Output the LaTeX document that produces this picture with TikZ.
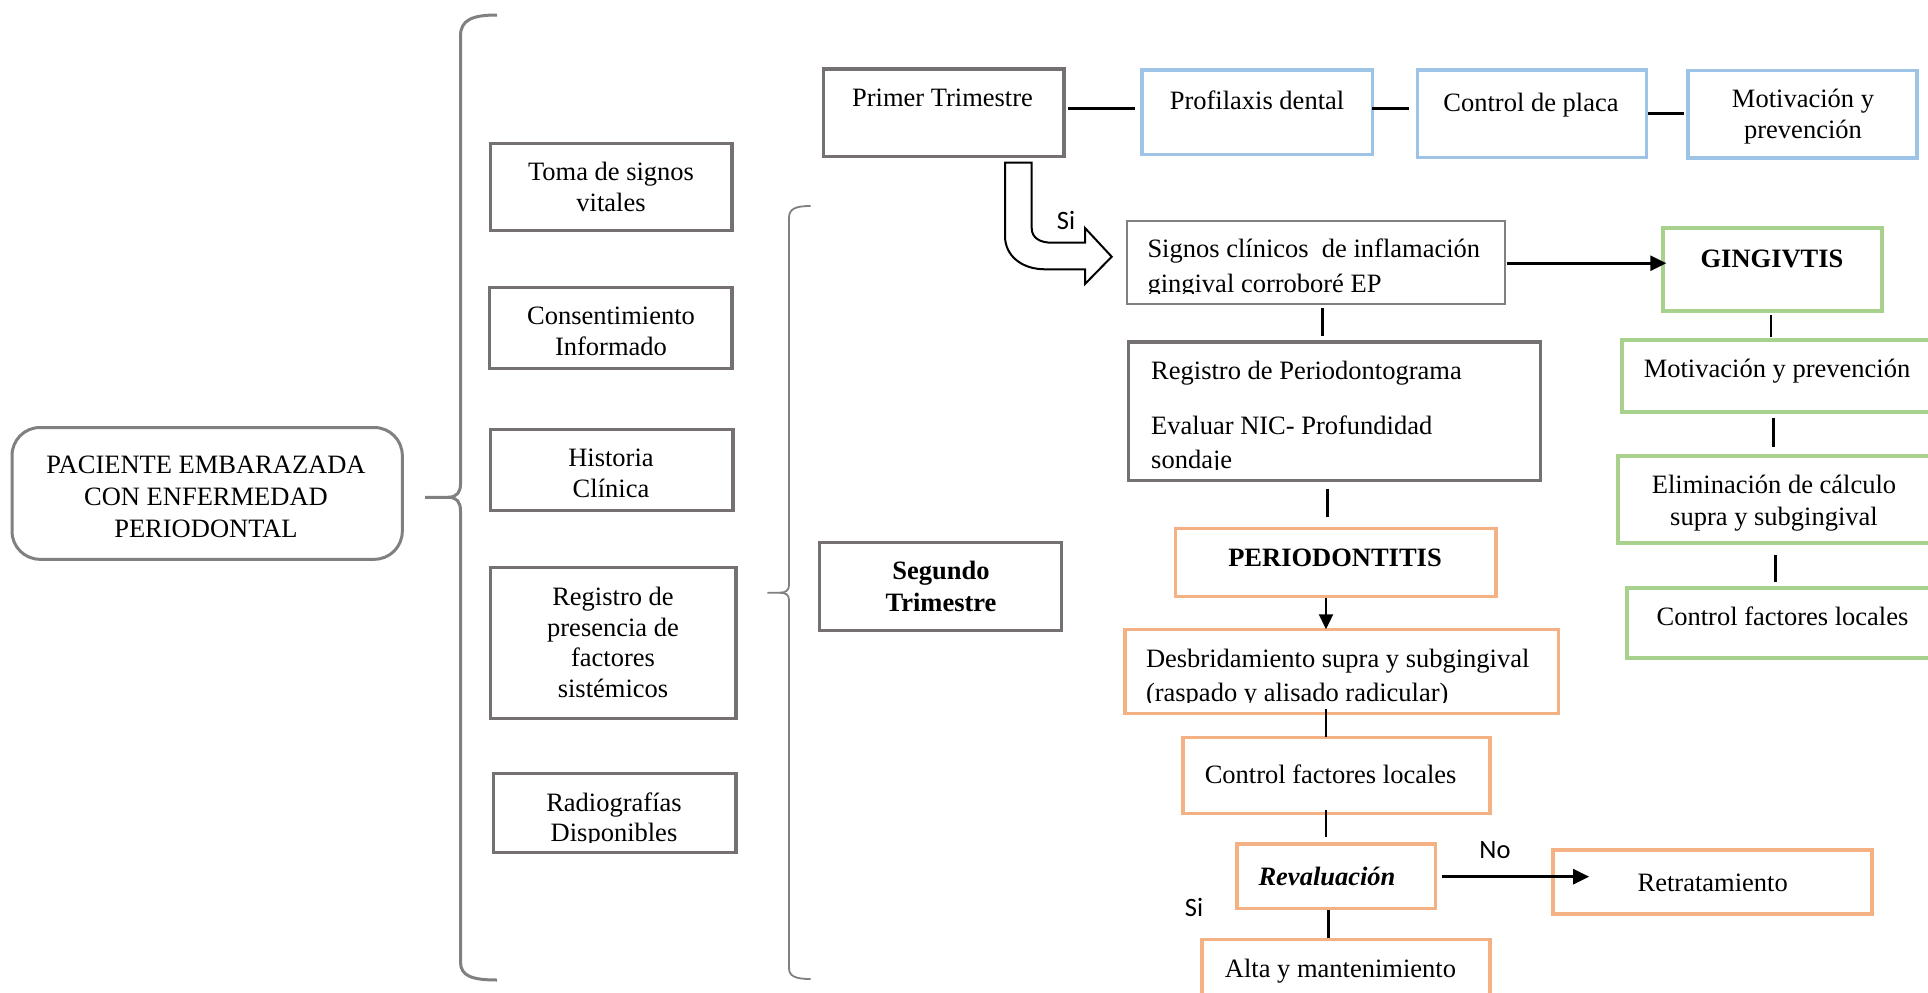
\documentclass[tikz,border=0pt]{standalone}
\usepackage{fontspec}
\setmainfont{Liberation Serif}
\newfontfamily\calib{Carlito}
\usetikzlibrary{fit,arrows.meta}
\definecolor{boxgray}{RGB}{118,113,113}
\definecolor{brgray}{RGB}{128,128,128}
\definecolor{bblue}{RGB}{157,195,230}
\definecolor{bgreen}{RGB}{169,209,142}
\definecolor{borange}{RGB}{244,177,131}
\newcommand\mybox[6]{\node[#2, fit={(#3,#4) (#5,#6)}] (#1) {};}
\newcommand\mytext[5]{\node[txt,#4] (#1) at (#2,#3) {#5};}
\begin{document}
\begin{tikzpicture}[x=1pt,y=-1pt,
  plainzero/.style={inner sep=0pt, outer sep=0pt},
  graybox/.style={plainzero, draw=boxgray, line width=3.5pt},
  thinbox/.style={plainzero, draw=brgray, line width=2pt},
  bluebox/.style={plainzero, draw=bblue, line width=3.5pt},
  greenbox/.style={plainzero, draw=bgreen, line width=4pt},
  orangebox/.style={plainzero, draw=borange, line width=3.5pt},
  pacbox/.style={plainzero, draw=brgray, line width=3pt, rounded corners=28pt},
  txt/.style={inner sep=0pt, anchor=base, font=\fontsize{26.5}{32}\selectfont},
  lbl/.style={font=\calib\fontsize{26.5}{32}\selectfont},
  conn/.style={line width=2.5pt},
  hconn/.style={line width=3pt},
  arr/.style={line width=2.7pt, -{Triangle[length=16pt,width=15pt]}},
  arrthin/.style={line width=2pt, -{Triangle[length=15pt,width=14pt]}},
  brace/.style={draw=brgray, line width=3pt},
  thinbrace/.style={draw=brgray, line width=1.8pt},
]
\useasboundingbox (0,0) rectangle (1928,993);
\clip (0,0) rectangle (1928,993);

% braces
\draw[brace] (497,15) .. controls (472,15) and (460.5,20) .. (460.5,36) -- (460.5,484)
  .. controls (460.5,492) and (457,497.3) .. (448,497.3) -- (425,497.3);
\draw[brace] (448,497.3) .. controls (457,497.3) and (460.5,502) .. (460.5,511) -- (460.5,962)
  .. controls (460.5,976) and (472,980) .. (497,980);
\draw[thinbrace] (810.6,206) .. controls (795,206) and (789,209) .. (789,218) -- (789,585)
  .. controls (789,590) and (786,592.7) .. (780,592.7) -- (767.3,592.7);
\draw[thinbrace] (780,592.7) .. controls (786,592.7) and (789,595) .. (789,600) -- (789,968)
  .. controls (789,976) and (795,979) .. (810.6,979);

% boxes
\mybox{paciente}{pacbox}{12}{427.5}{402.3}{559.3}
\mybox{toma}{graybox}{490.6}{143.6}{732}{230.4}
\mybox{consent}{graybox}{489.6}{287.5}{732}{368.6}
\mybox{historia}{graybox}{490.6}{429.3}{733}{510.7}
\mybox{regpres}{graybox}{490.6}{567.3}{735.8}{718.3}
\mybox{radio}{graybox}{493.5}{773.3}{735.8}{852.7}
\mybox{segundo}{graybox}{819.6}{542.3}{1061.7}{630.7}
\mybox{primer}{graybox}{823.3}{68.9}{1063.9}{156.4}
\mybox{profil}{bluebox}{1142}{70}{1372.3}{154.3}
\mybox{control}{bluebox}{1417.7}{70}{1646.4}{157.5}
\mybox{motiv}{bluebox}{1688}{70.7}{1916.8}{158.2}
\mybox{signos}{thinbox}{1126.5}{220.7}{1504.9}{303.6}
\mybox{gingiv}{greenbox}{1663.3}{228.3}{1881.7}{310.7}
\mybox{motivg}{greenbox}{1621.7}{340}{1940}{411.7}
\mybox{elim}{greenbox}{1618.3}{456}{1940}{543.3}
\mybox{ctrlg}{greenbox}{1626.7}{588.3}{1940}{658.3}
\mybox{regper}{graybox}{1128.7}{341.8}{1540.6}{480.4}
\mybox{period}{orangebox}{1175.6}{528.3}{1496}{596.7}
\mybox{desbr}{orangebox}{1125}{629.3}{1558.5}{713.3}
\mybox{ctrlo}{orangebox}{1183}{737.3}{1490}{813.3}
\mybox{reval}{orangebox}{1236.8}{844}{1435.5}{908.3}
\mybox{retrat}{orangebox}{1553}{850}{1872}{914}
\mybox{alta}{orangebox}{1202}{939.3}{1490}{1005}

% texts
\mytext{tpac1}{206}{473}{}{PACIENTE EMBARAZADA}
\mytext{tpac2}{206}{505}{}{CON ENFERMEDAD}
\mytext{tpac3}{206}{537}{}{PERIODONTAL}
\mytext{ttoma1}{611}{180}{}{Toma de signos}
\mytext{ttoma2}{611}{211}{}{vitales}
\mytext{tcons1}{611}{324}{}{Consentimiento}
\mytext{tcons2}{611}{355}{}{Informado}
\mytext{thist1}{611}{466}{}{Historia}
\mytext{thist2}{611}{497}{}{Clínica}
\mytext{treg1}{613}{605}{}{Registro de}
\mytext{treg2}{613}{636}{}{presencia de}
\mytext{treg3}{613}{666}{}{factores}
\mytext{treg4}{613}{697}{}{sistémicos}
\begin{scope}
\clip (493.5,773.3) rectangle (735.8,842.5);
\mytext{trad1}{614}{811}{}{Radiografías}
\mytext{trad2}{614}{841}{}{Disponibles}
\end{scope}
\mytext{tseg1}{941}{579}{font=\bfseries\fontsize{26.5}{32}\selectfont}{Segundo}
\mytext{tseg2}{941}{611}{font=\bfseries\fontsize{26.5}{32}\selectfont}{Trimestre}
\mytext{tprim}{942.5}{106.8}{}{Primer Trimestre}
\mytext{tprof}{1257}{109.6}{}{Profilaxis dental}
\mytext{tctrl}{1531}{111}{}{Control de placa}
\mytext{tmot1}{1803}{107.5}{}{Motivación y}
\mytext{tmot2}{1803}{138.7}{}{prevención}
\begin{scope}
\clip (1126.5,220.7) rectangle (1504.9,293.5);
\mytext{tsig1}{1147.3}{257.5}{anchor=base west}{Signos clínicos~ de inflamación}
\mytext{tsig2}{1147.3}{292}{anchor=base west}{gingival corroboré EP}
\end{scope}
\mytext{tging}{1772}{267}{font=\bfseries\fontsize{26.5}{32}\selectfont}{GINGIVTIS}
\mytext{tmotg}{1777}{377}{}{Motivación y prevención}
\mytext{telim1}{1774}{493}{}{Eliminación de cálculo}
\mytext{telim2}{1774}{525.5}{}{supra y subgingival}
\mytext{tctrlg}{1782.5}{625}{}{Control factores locales}
\begin{scope}
\clip (1128.7,341.8) rectangle (1540.6,469);
\mytext{tper1}{1151}{379}{anchor=base west}{Registro de Periodontograma}
\mytext{tper2}{1151}{434.7}{anchor=base west}{Evaluar NIC- Profundidad}
\mytext{tper3}{1151}{468}{anchor=base west}{sondaje}
\end{scope}
\mytext{tperio}{1335}{566}{font=\bfseries\fontsize{26.5}{32}\selectfont}{PERIODONTITIS}
\begin{scope}
\clip (1125,629.3) rectangle (1558.5,702);
\mytext{tdes1}{1145.8}{667.5}{anchor=base west}{Desbridamiento supra y subgingival}
\mytext{tdes2}{1145.8}{701}{anchor=base west}{(raspado y alisado radicular)}
\end{scope}
\mytext{tctrlo}{1330.6}{783.5}{}{Control factores locales}
\mytext{treval}{1327}{885}{font=\bfseries\itshape\fontsize{26.5}{32}\selectfont}{Revaluación}
\mytext{tretr}{1712.7}{891}{}{Retratamiento}
\mytext{talta}{1340.5}{977.5}{}{Alta y mantenimiento}
\mytext{tno}{1495}{858}{lbl}{No}
\mytext{tsi2}{1194}{916}{lbl}{Si}
\mytext{tsi1}{1066}{229}{lbl}{Si}

% hollow bent arrow from Primer Trimestre to Signos
\draw[line width=2pt, fill=white, line join=miter]
  (1005,162.7) -- (1005,236) .. controls (1005,256) and (1022,269.3) .. (1045,269.3)
  -- (1085,269.3) -- (1085,284) -- (1111.7,256.7) -- (1085,228) -- (1085,242.7)
  -- (1051.7,242.7) .. controls (1040,242.7) and (1031.7,238) .. (1031.7,228)
  -- (1031.7,162.7) -- cycle;

% connectors
\draw[hconn, shorten <=4pt, shorten >=7pt] (primer.east |- 0,108.9) -- (profil.west |- 0,108.9);
\draw[hconn, shorten >=9pt] (profil.east |- 0,108.6) -- (control.west |- 0,108.6);
\draw[hconn, shorten <=2pt, shorten >=4pt] (control.east |- 0,113.6) -- (motiv.west |- 0,113.6);
\draw[arr, shorten <=2pt, shorten >=-3pt] (signos.east |- 0,263.2) -- (gingiv.west |- 0,263.2);
\draw[conn, shorten <=4.6pt, shorten >=5.4pt] (signos.south -| 1322.4,0) -- (regper.north -| 1322.4,0);
\draw[conn, shorten <=8.6pt, shorten >=11.6pt] (regper.south -| 1327.6,0) -- (period.north -| 1327.6,0);
\draw[arrthin, shorten <=1.6pt, shorten >=0pt] (period.south -| 1326,0) -- (desbr.north -| 1326,0);
\draw[conn, shorten <=-4pt] (desbr.south -| 1326,0) -- (ctrlo.north -| 1326,0);
\draw[conn, shorten <=-3.3pt, shorten >=6.7pt] (ctrlo.south -| 1326,0) -- (reval.north -| 1326,0);
\draw[conn, shorten <=1.7pt, shorten >=1pt] (reval.south -| 1328.7,0) -- (alta.north -| 1328.7,0);
\draw[arr, shorten <=6.3pt, shorten >=-36.2pt] (reval.east |- 0,876.7) -- (retrat.west |- 0,876.7);
\draw[conn, shorten <=4.3pt, shorten >=3.3pt] (gingiv.south -| 1771,0) -- (motivg.north -| 1771,0);
\draw[conn, shorten <=6.6pt, shorten >=9.3pt] (motivg.south -| 1773.3,0) -- (elim.north -| 1773.3,0);
\draw[conn, shorten <=11.7pt, shorten >=6.6pt] (elim.south -| 1775.7,0) -- (ctrlg.north -| 1775.7,0);
\end{tikzpicture}
\end{document}
